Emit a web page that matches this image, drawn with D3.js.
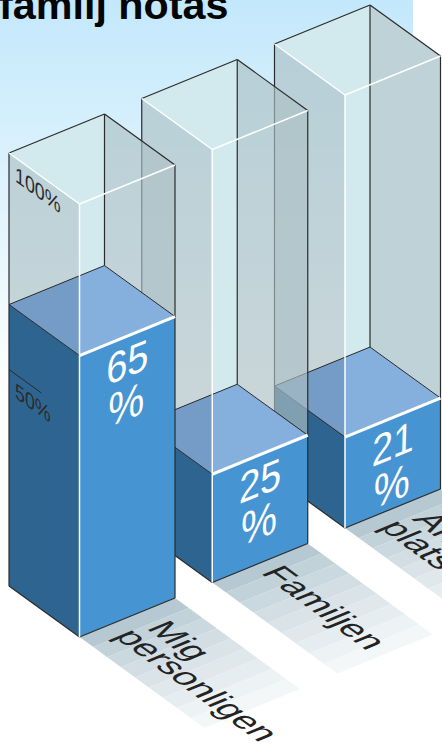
<!DOCTYPE html>
<html><head><meta charset="utf-8">
<script src="https://cdn.jsdelivr.net/npm/d3@7"></script>
<style>html,body{margin:0;padding:0;background:#fff;overflow:hidden}svg{display:block}text{font-family:"Liberation Sans",Arial,sans-serif}</style>
</head><body><svg id="c" width="442" height="748"></svg>
<script>
const titleText = "familj notas";
const categories = ["Mig personligen", "Familjen", "Andra platser"];
const categoryLines = [["Mig", "personligen"], ["Familjen"], ["Andra", "platser"]];
const values = [65, 25, 21];
const valueLabels = ["65", "25", "21"];
const gridValues = [100, 50];
const gridLabels = ["100%", "50%"];

const svg = d3.select("#c");
const xFront = d3.scalePoint().domain(categories).range([79.5, 345]);
const yBase = d3.scalePoint().domain(categories).range([637, 528]);
const h = d3.scaleLinear().domain([0, 100]).range([0, 433]);
const L = [-70.5, -51], R = [95.5, -39], B = [L[0] + R[0], L[1] + R[1]];
const S = [125, 91];
const ink = "#2b2b2b";
const poly = (pts, a) => svg.append("polygon").attr("points", pts.map(p => p.join(",")).join(" ")).attr("fill", a.fill).attr("fill-opacity", a.op == null ? 1 : a.op);
const line = (p, q, c, w) => svg.append("line").attr("x1", p[0]).attr("y1", p[1]).attr("x2", q[0]).attr("y2", q[1]).attr("stroke", c).attr("stroke-width", w);
const add = (p, v, k = 1) => [p[0] + v[0] * k, p[1] + v[1] * k];

const defs = svg.append("defs");
const g = defs.append("linearGradient").attr("id", "bg").attr("x1", 0).attr("y1", 0).attr("x2", 0).attr("y2", 1);
g.append("stop").attr("offset", 0).attr("stop-color", "#c3e8fb");
g.append("stop").attr("offset", 0.6).attr("stop-color", "#e6f6fe");
g.append("stop").attr("offset", 1).attr("stop-color", "#ffffff");
svg.append("rect").attr("width", 413).attr("height", 400).attr("fill", "url(#bg)");

svg.append("text").attr("x", -1).attr("y", 18.5).attr("font-size", 41.3).attr("font-weight", 700).attr("fill", "#050505").text(titleText);

const shade = d3.interpolateRgb("#b6c9d2", "#f9fbfc");
const nBands = 9;
d3.range(categories.length).reverse().forEach(i => {
  const c = categories[i], F0 = [xFront(c), yBase(c)], R0 = add(F0, R);
  d3.range(nBands).forEach(b => {
    const a = b / nBands, e = (b + 1) / nBands;
    poly([add(F0, S, a), add(R0, S, a), add(R0, S, e), add(F0, S, e)], {fill: shade(Math.pow(a, 0.8))});
  });
  const t = svg.append("text").attr("fill", "#232323").attr("font-size", 35)
    .attr("transform", `translate(${F0[0]},${F0[1]}) matrix(0.81,0.59,-0.925,0.38,0,0)`);
  categoryLines[i].forEach((s, k) => {
    const n = categoryLines[i].length;
    t.append("tspan").attr("x", n === 1 ? 11 : (k === 0 ? 20 : 14)).attr("y", n === 1 ? -42 : -54 + k * 30).text(s);
  });
});

d3.range(categories.length).reverse().forEach(i => {
  const c = categories[i];
  const F0 = [xFront(c), yBase(c)];
  const Ft = [F0[0], F0[1] - h(100)], Fv = [F0[0], F0[1] - h(values[i])];
  const at = (f) => ({F: f, L: add(f, L), R: add(f, R), B: add(f, B)});
  const T = at(Ft), V = at(Fv), Z = at(F0);
  // pale glass: top plate and the strip between front and back edges
  poly([T.L, T.B, V.B, V.F, T.F], {fill: "#d2e9ee"});
  // walls
  const wall = {fill: "#acc0c5", op: 0.65};
  if (i === categories.length - 1) poly([T.B, T.R, V.R, V.B], {fill: "#dff3fc"});
  poly([T.B, T.R, V.R, V.B], wall);
  poly([T.L, T.F, V.F, V.L], wall);
  // filled block
  poly([V.L, V.B, V.R, V.F], {fill: "#85b0de"});
  const k = (F0[0] - V.L[0]) / (V.B[0] - V.L[0]);
  poly([V.L, [V.L[0] + (V.B[0] - V.L[0]) * k, V.L[1] + (V.B[1] - V.L[1]) * k], V.F], {fill: "#759cc7"});
  poly([V.L, V.F, Z.F, Z.L], {fill: "#2e6590"});
  poly([V.F, V.R, Z.R, Z.F], {fill: "#4694d1"});
  // outlines
  line(T.L, T.B, ink, 1.2); line(T.B, T.R, ink, 1.2);
  line(T.B, V.B, ink, 1.2);
  line(T.L, Z.L, ink, 1.2); line(T.R, Z.R, ink, 1.2);
  line(V.L, V.B, ink, 1); line(V.B, V.R, ink, 1); line(V.L, V.F, ink, 1);
  line(Z.L, Z.F, ink, 1.2); line(Z.F, Z.R, ink, 1.2);
  line(T.L, T.F, "#fff", 1.5); line(T.F, T.R, "#fff", 1.5);
  line(T.F, Z.F, "#fff", 1.5);
  line(V.F, V.R, "#fff", 3);
  // value
  const cx = F0[0] + R[0] / 2, cy = Fv[1] + R[1] / 2;
  const vt = svg.append("text").attr("fill", "#fff").attr("font-size", 41).attr("text-anchor", "middle")
    .attr("transform", `translate(${cx + 1},${cy}) matrix(0.925,-0.38,-0.03,1.05,0,0)`);
  vt.append("tspan").attr("x", 0).attr("y", 39).text(valueLabels[i]);
  vt.append("tspan").attr("x", 0).attr("y", 80).attr("font-size", 44).text("%");
});

// scale marks on the left wall of the first bar
const c0 = categories[0];
gridValues.forEach((v, j) => {
  const p = [xFront(c0) + L[0], yBase(c0) + L[1] - h(v)];
  if (v !== 100) line(p, add(p, [-L[0], -L[1]], 0.46), ink, 1);
  svg.append("text").attr("fill", "#2b2b2b").attr("font-size", 22)
    .attr("transform", `translate(${p[0] + 6},${p[1] + 28}) matrix(0.81,0.586,0,1,0,0)`).text(gridLabels[j]);
});
</script></body></html>
